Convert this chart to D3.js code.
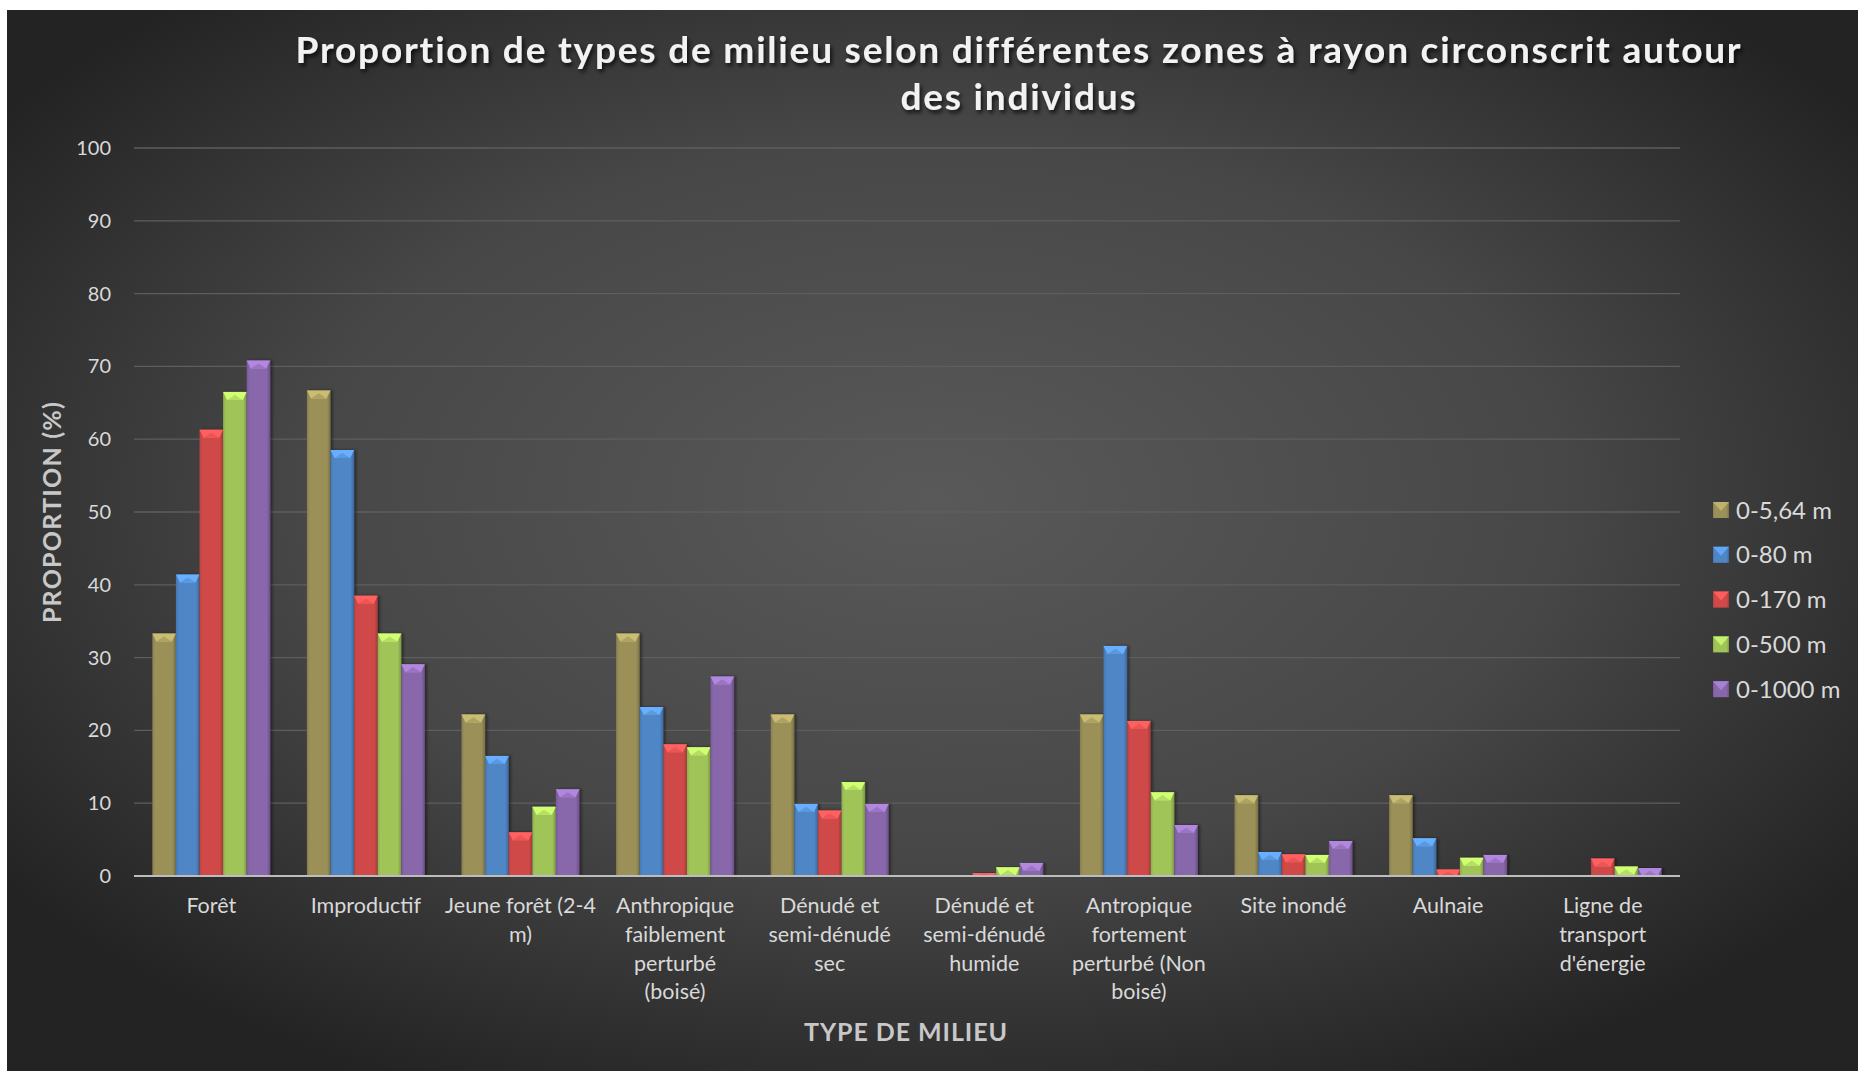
<!DOCTYPE html>
<html>
<head>
<meta charset="utf-8">
<script src="https://cdn.jsdelivr.net/npm/d3@7"></script>
<style>
  html, body { margin: 0; padding: 0; background: #ffffff; }
  svg { display: block; }
  text { font-family: "Lato", "Open Sans", sans-serif; }
</style>
</head>
<body>
<svg id="chart" width="1858" height="1071"></svg>
<script>
// Habitat categories (line breaks follow the axis label wrapping)
const categories = [
  "Forêt",
  "Improductif",
  "Jeune forêt (2-4\nm)",
  "Anthropique\nfaiblement\nperturbé\n(boisé)",
  "Dénudé et\nsemi-dénudé\nsec",
  "Dénudé et\nsemi-dénudé\nhumide",
  "Antropique\nfortement\nperturbé (Non\nboisé)",
  "Site inondé",
  "Aulnaie",
  "Ligne de\ntransport\nd'énergie"
];

// Radius zones
const seriesNames = ["0-5,64 m", "0-80 m", "0-170 m", "0-500 m", "0-1000 m"];

// Proportion (%) per zone, one value per category
const zone564 = [33.3, 66.7, 22.2, 33.3, 22.2, 0, 22.2, 11.1, 11.1, 0];
const zone80 = [41.4, 58.5, 16.5, 23.2, 9.9, 0, 31.6, 3.3, 5.2, 0];
const zone170 = [61.3, 38.5, 6.0, 18.1, 9.0, 0.4, 21.3, 3.0, 0.9, 2.4];
const zone500 = [66.5, 33.3, 9.5, 17.7, 12.9, 1.2, 11.5, 2.9, 2.5, 1.3];
const zone1000 = [70.8, 29.1, 11.9, 27.4, 9.9, 1.8, 7.0, 4.8, 2.9, 1.1];

const yTicks = [0, 10, 20, 30, 40, 50, 60, 70, 80, 90, 100];

const titleLines = [
  "Proportion de types de milieu selon différentes zones à rayon circonscrit autour",
  "des individus"
];
const xTitle = "TYPE DE MILIEU";
const yTitle = "PROPORTION (%)";

const seriesValues = [zone564, zone80, zone170, zone500, zone1000];
const colors = ["#9a9058", "#4f86c6", "#d04a4a", "#a0c458", "#8867ab"];

const svg = d3.select("#chart");
const W = 1858, H = 1071;
const plot = { left: 134, right: 1680, top: 148, bottom: 876 };

const defs = svg.append("defs");

// Dark radial backdrop
const bg = defs.append("radialGradient").attr("id", "bg")
  .attr("cx", "50%").attr("cy", "46%").attr("r", "62%");
bg.append("stop").attr("offset", "0%").attr("stop-color", "#595959");
bg.append("stop").attr("offset", "55%").attr("stop-color", "#474747");
bg.append("stop").attr("offset", "100%").attr("stop-color", "#232323");

// Per-series bar body shading
colors.forEach((c, i) => {
  const g = defs.append("linearGradient").attr("id", "bar" + i)
    .attr("x1", "0%").attr("x2", "100%").attr("y1", "0%").attr("y2", "0%");
  g.append("stop").attr("offset", "0%").attr("stop-color", d3.color(c).darker(0.35));
  g.append("stop").attr("offset", "12%").attr("stop-color", c);
  g.append("stop").attr("offset", "85%").attr("stop-color", c);
  g.append("stop").attr("offset", "100%").attr("stop-color", d3.color(c).darker(0.7));
});

const shadow = defs.append("filter").attr("id", "txtShadow")
  .attr("x", "-5%").attr("y", "-30%").attr("width", "110%").attr("height", "160%");
shadow.append("feDropShadow").attr("dx", 2).attr("dy", 3).attr("stdDeviation", 2)
  .attr("flood-color", "#000").attr("flood-opacity", 0.75);

const barShadow = defs.append("filter").attr("id", "barShadow")
  .attr("x", "-20%").attr("y", "-5%").attr("width", "150%").attr("height", "110%");
barShadow.append("feDropShadow").attr("dx", 2).attr("dy", 0).attr("stdDeviation", 1.5)
  .attr("flood-color", "#000").attr("flood-opacity", 0.45);

svg.append("rect").attr("x", 7).attr("y", 10).attr("width", W - 7).attr("height", H - 10)
  .attr("fill", "url(#bg)");

// Scales
const x0 = d3.scaleBand().domain(categories).range([plot.left, plot.right])
  .paddingInner(0.237).paddingOuter(0.1185);
const x1 = d3.scaleBand().domain(d3.range(seriesNames.length)).range([0, x0.bandwidth()]).padding(0);
const y = d3.scaleLinear().domain([0, 100]).range([plot.bottom, plot.top]);

// Gridlines
svg.append("g").selectAll("line").data(yTicks.filter(t => t > 0)).join("line")
  .attr("x1", plot.left).attr("x2", plot.right)
  .attr("y1", d => y(d)).attr("y2", d => y(d))
  .attr("stroke", "#5e5e5e").attr("stroke-width", 1.3);

// Y axis labels
const yAxis = svg.append("g").attr("transform", `translate(${plot.left - 23},0)`)
  .call(d3.axisLeft(y).tickValues(yTicks).tickSize(0).tickPadding(0));
yAxis.select(".domain").remove();
yAxis.selectAll("text").attr("fill", "#d9d9d9").attr("font-size", 20)
  .style("font-family", "Lato");

// Bars
const groups = svg.append("g").selectAll("g").data(categories).join("g")
  .attr("transform", d => `translate(${x0(d)},0)`);

groups.each(function (cat, ci) {
  const g = d3.select(this);
  seriesValues.forEach((vals, si) => {
    const v = vals[ci];
    if (!(v > 0)) return;
    const bx = x1(si), bw = x1.bandwidth();
    const top = y(v), h = y(0) - y(v);
    const bar = g.append("g").attr("filter", "url(#barShadow)");
    bar.append("rect").attr("x", bx).attr("y", top).attr("width", bw).attr("height", h)
      .attr("fill", `url(#bar${si})`);
    // bevelled cap
    const capH = Math.min(8, h);
    const inset = Math.min(4, capH * 0.5);
    const cLight = d3.color(colors[si]).brighter(0.75);
    bar.append("path")
      .attr("d", `M${bx},${top}L${bx + bw},${top}L${bx + bw - inset},${top + capH}L${bx + inset},${top + capH}Z`)
      .attr("fill", cLight);
    bar.append("path")
      .attr("d", `M${bx + inset},${top + capH}L${bx + bw - inset},${top + capH}L${bx + bw / 2},${top + capH * 0.35}Z`)
      .attr("fill", d3.color(colors[si]).brighter(0.35));
  });
});

// Baseline
svg.append("line").attr("x1", plot.left).attr("x2", plot.right)
  .attr("y1", y(0)).attr("y2", y(0))
  .attr("stroke", "#bdbdbd").attr("stroke-width", 2.2);

// Category labels
const catLabels = svg.append("g");
categories.forEach(cat => {
  const t = catLabels.append("text")
    .attr("x", x0(cat) + x0.bandwidth() / 2).attr("y", 913)
    .attr("text-anchor", "middle").attr("fill", "#d9d9d9").attr("font-size", 21.5);
  cat.split("\n").forEach((line, i) => {
    t.append("tspan").attr("x", x0(cat) + x0.bandwidth() / 2)
      .attr("dy", i === 0 ? 0 : 28.8).text(line);
  });
});

// Fit text horizontally to a given width via letter spacing
function fitWidth(sel, target) {
  const len = sel.node().getComputedTextLength();
  const n = sel.text().length;
  if (n > 1) sel.attr("letter-spacing", (target - len) / (n - 1));
}

// Title: font size chosen so that the first line spans the wanted width
const titleSpacing = 1.8;
const t1 = svg.append("text").attr("x", 1019).attr("y", 63).attr("text-anchor", "middle")
  .attr("fill", "#f2f2f2").attr("font-size", 32).attr("font-weight", 700)
  .attr("letter-spacing", titleSpacing)
  .attr("filter", "url(#txtShadow)").text(titleLines[0]);
const titleSize = 32 * 1470 / t1.node().getComputedTextLength();
t1.attr("font-size", titleSize);
svg.append("text").attr("x", 1019).attr("y", 110).attr("text-anchor", "middle")
  .attr("fill", "#f2f2f2").attr("font-size", titleSize).attr("font-weight", 700)
  .attr("letter-spacing", titleSpacing)
  .attr("filter", "url(#txtShadow)").text(titleLines[1]);

// Axis titles
const xt = svg.append("text").attr("x", 906).attr("y", 1041).attr("text-anchor", "middle")
  .attr("fill", "#c8c8c8").attr("font-size", 25).attr("font-weight", 700).text(xTitle);
fitWidth(xt, 203);
const yt = svg.append("text").attr("transform", `translate(61,${(plot.top + plot.bottom) / 2}) rotate(-90)`)
  .attr("text-anchor", "middle").attr("fill", "#c8c8c8").attr("font-size", 25)
  .attr("font-weight", 700).text(yTitle);
fitWidth(yt, 221);

// Legend
const legend = svg.append("g");
seriesNames.forEach((name, i) => {
  const cy = 510 + i * 44.8;
  const sx = 1713, s = 16;
  legend.append("rect").attr("x", sx).attr("y", cy - s / 2).attr("width", s).attr("height", s)
    .attr("fill", `url(#bar${i})`);
  legend.append("path")
    .attr("d", `M${sx},${cy - s / 2}L${sx + s},${cy - s / 2}L${sx + s / 2},${cy + 1}Z`)
    .attr("fill", d3.color(colors[i]).brighter(0.6));
  legend.append("text").attr("x", 1736).attr("y", cy).attr("dy", "0.36em")
    .attr("fill", "#d9d9d9").attr("font-size", 24).text(name);
});
</script>
</body>
</html>
